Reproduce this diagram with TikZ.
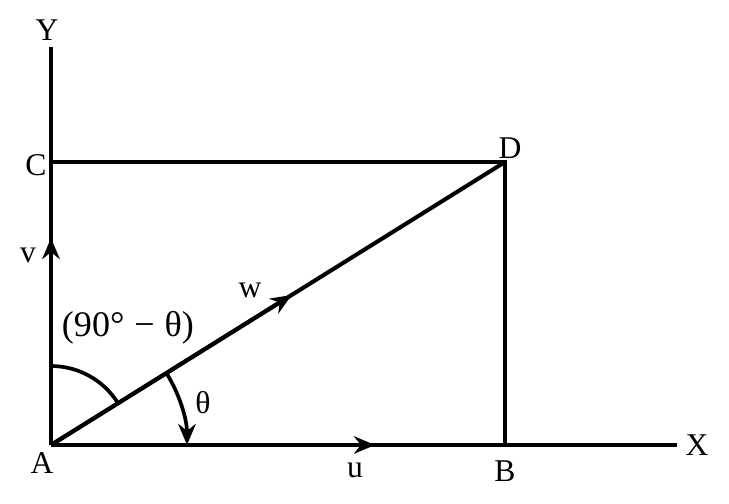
\documentclass[tikz,border=0pt]{standalone}
\usepackage{fontspec}
\setmainfont{Liberation Serif}
\usetikzlibrary{arrows.meta, calc, angles}

\begin{document}
\begin{tikzpicture}[x=1cm,y=1cm,
>={Stealth[length=12pt,width=10pt,inset=4pt]},line width=2.3pt,black,text=black,
every node/.style={font=\fontsize{18}{21}\selectfont,inner sep=0pt},
vec/.style={->,shorten >=0pt}]

  \useasboundingbox (0,0) rectangle (14.58,10.06);

  % corners and axis ends
  \coordinate (A)  at (1.02 ,1.16);
  \coordinate (B)  at (10.10,1.16);
  \coordinate (C)  at (1.02 ,6.82);
  \coordinate (D)  at (10.10,6.82);
  \coordinate (Xe) at (13.54,1.16);
  \coordinate (Ye) at (1.02 ,9.12);

  % tips of the vector arrows
  \coordinate (utip) at (7.50,1.16);
  \coordinate (vtip) at (1.02,5.30);
  \coordinate (wtip) at ($(A)!0.53!(D)$);

  % axes and rectangle
  \draw (A) -- (Xe);
  \draw (A) -- (Ye);
  \draw (C) -- (D) -- (B);
  \draw (A) -- (D);

  % vectors
  \draw[vec] (A) -- (utip);
  \draw[vec] (A) -- (vtip);
  \draw[vec] (A) -- (wtip);

  % angles
  \pic[draw,line width=2.1pt,angle radius=1.58cm] {angle=D--A--C};
  \pic[draw,line width=2.1pt,<-,angle radius=2.72cm] {angle=B--A--D};

  % labels
  \node (lY) at (0.94,9.46)  {Y};
  \node (lX) at (13.94,1.16) {X};
  \node (lA) at (0.84,0.80)  {A};
  \node (lB) at (10.10,0.64) {B};
  \node (lC) at (0.72,6.76)  {C};
  \node (lD) at (10.20,7.10) {D};
  \node (lu) at (7.10,0.66)  {u};
  \node (lv) at (0.56,4.96)  {v};
  \node (lw) at (5.00,4.26)  {w};
  \node (lt) at (4.06,2.00)  {θ};
  \node[font=\fontsize{20.5}{24}\selectfont] (lc) at (2.56,3.50) {(90°\;−\;θ)};
\end{tikzpicture}
\end{document}
